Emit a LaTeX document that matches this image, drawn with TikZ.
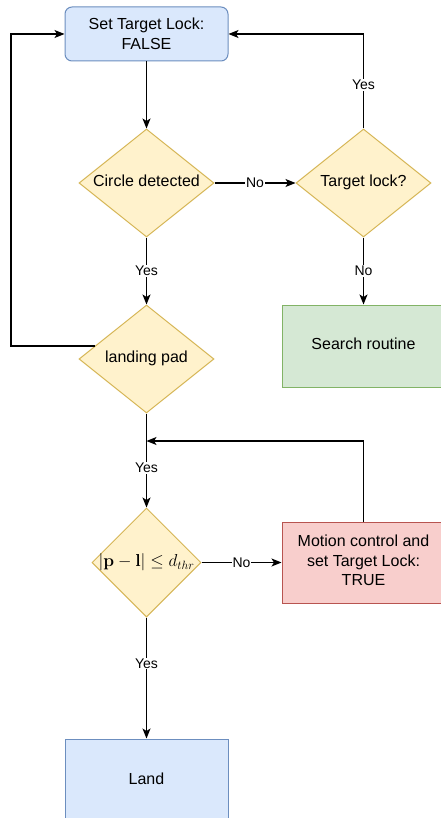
\documentclass[tikz,border=0pt]{standalone}
\usepackage[no-math]{fontspec}
\setmainfont{Liberation Sans}
\usetikzlibrary{shapes.geometric,arrows.meta,calc}

\definecolor{bluefill}{HTML}{DAE8FC}
\definecolor{bluedraw}{HTML}{6C8EBF}
\definecolor{yellowfill}{HTML}{FFF2CC}
\definecolor{yellowdraw}{HTML}{D6B656}
\definecolor{greenfill}{HTML}{D5E8D4}
\definecolor{greendraw}{HTML}{82B366}
\definecolor{redfill}{HTML}{F8CECC}
\definecolor{reddraw}{HTML}{B85450}

\tikzset{
  mainfont/.style={font=\fontsize{16}{19.5}\selectfont},
  procbox/.style={mainfont, shape=rectangle, align=center, line width=1pt,
    minimum width=163pt, inner sep=0pt},
  decision/.style={mainfont, shape=diamond, line width=1pt, inner sep=0pt,
    fill=yellowfill, draw=yellowdraw},
  arr/.style={line width=1.2pt, -{Stealth[length=10pt,width=8pt,inset=2.5pt]}},
  edgelabel/.style={font=\fontsize{14}{16}\selectfont, fill=white, inner sep=1pt}
}

\begin{document}
\begin{tikzpicture}[x=1pt,y=-1pt]
\useasboundingbox (0,0) rectangle (441,818);
\fill[white] (0,0) rectangle (441,818);

% process boxes
\node[procbox, rounded corners=7pt, minimum height=54pt, fill=bluefill, draw=bluedraw]
  (top) at (146.5,34) {Set Target Lock:\\FALSE};
\node[procbox, minimum height=82pt, fill=greenfill, draw=greendraw]
  (search) at (363.5,346) {\raisebox{4pt}{Search routine}};
\node[procbox, minimum height=81pt, fill=redfill, draw=reddraw]
  (motion) at (363.5,562.5) {\raisebox{2pt}{\begin{tabular}{@{}c@{}}Motion control and\\set Target Lock:\\TRUE\end{tabular}}};
\node[procbox, minimum height=82pt, fill=bluefill, draw=bluedraw]
  (land) at (146.5,780) {\raisebox{3pt}{Land}};

% decisions
\node[decision, minimum width=135pt, minimum height=108pt]
  (circle) at (146.5,183) {\makebox[0pt]{\raisebox{4pt}{Circle detected}}};
\node[decision, minimum width=135pt, minimum height=108pt]
  (lock) at (363.5,183) {\makebox[0pt]{\raisebox{4pt}{Target lock?}}};
\node[decision, minimum width=135pt, minimum height=108pt]
  (pad) at (146.5,359) {\makebox[0pt]{\raisebox{4pt}{landing pad}}};
\node[decision, minimum width=109pt, minimum height=109pt]
  (dist) at (146.5,562.5) {\makebox[0pt]{\fontsize{17}{20}\selectfont\raisebox{2pt}{$|\mathbf{p}-\mathbf{l}|\le d_{thr}$}}};

% helper points
\coordinate (padleft) at ($(pad.west)!0.24!(pad.north)$);
\coordinate (loopx) at (11,0);
\coordinate (join) at (146.5,441);

% connectors
\draw[arr] (top.south) -- (circle.north);
\draw[arr] (circle.east) -- node[edgelabel] {No} (lock.west);
\draw[arr] (lock.north) |- node[edgelabel, pos=0.23] {Yes} (top.east);
\draw[arr] (lock.south) -- node[edgelabel] {No} (search.north);
\draw[arr] (circle.south) -- node[edgelabel] {Yes} (pad.north);
\draw[arr] (padleft) -- (padleft -| loopx) |- (top.west);
\draw[arr] (pad.south) -- node[edgelabel, pos=0.58] {Yes} (dist.north);
\draw[arr] (motion.north) |- (join);
\draw[arr] (dist.east) -- node[edgelabel] {No} (motion.west);
\draw[arr] (dist.south) -- node[edgelabel, pos=0.38] {Yes} (land.north);
\end{tikzpicture}
\end{document}
